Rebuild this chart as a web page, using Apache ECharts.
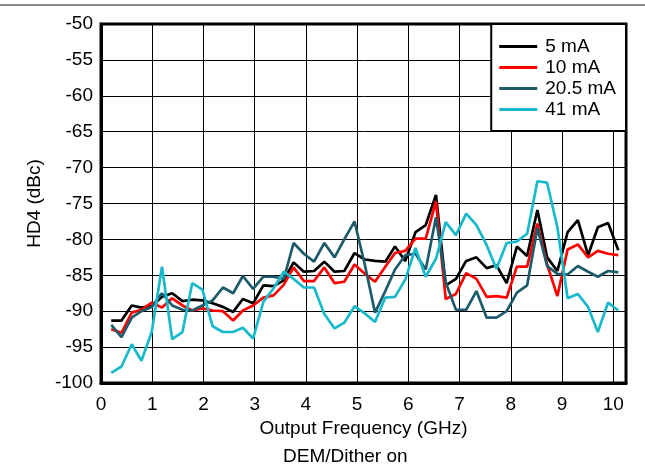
<!DOCTYPE html>
<html>
<head>
<meta charset="utf-8">
<script src="https://cdn.jsdelivr.net/npm/echarts@6/dist/echarts.min.js"></script>
<style>
  html, body { margin: 0; padding: 0; background: #fff; }
  #chart { width: 645px; height: 473px; }
</style>
</head>
<body>
<div id="chart"></div>
<script>
// output frequency (GHz)
var freq = [0.2, 0.4, 0.6, 0.79, 0.99, 1.19, 1.39, 1.59, 1.78, 1.98,
  2.18, 2.38, 2.58, 2.77, 2.97, 3.17, 3.37, 3.57, 3.76, 3.96,
  4.16, 4.36, 4.56, 4.75, 4.95, 5.15, 5.35, 5.55, 5.74, 5.94,
  6.14, 6.34, 6.54, 6.73, 6.93, 7.13, 7.33, 7.53, 7.72, 7.92,
  8.12, 8.32, 8.52, 8.71, 8.91, 9.11, 9.31, 9.51, 9.7, 9.9, 10.1];

var names = ['5 mA', '10 mA', '20.5 mA', '41 mA'];
var colors = ['#000000', '#ff0000', '#1d5b6b', '#17b9cb'];

var hd4_5mA = [-91.3, -91.3, -89.2, -89.5, -89.3, -88.0, -87.5, -88.6, -88.4, -88.5,
  -88.9, -89.4, -90.1, -88.3, -88.9, -86.4, -86.5, -85.7, -83.2, -84.5,
  -84.4, -83.1, -84.5, -84.4, -81.9, -82.8, -83.0, -83.1, -81.0, -83.0,
  -79.0, -78.0, -73.8, -86.4, -85.5, -83.0, -82.5, -84.0, -83.6, -86.1,
  -81.0, -82.3, -75.9, -82.5, -84.4, -79.0, -77.3, -82.2, -78.3, -77.7, -81.5];
var hd4_10mA = [-92.5, -93.0, -90.2, -89.8, -88.8, -89.5, -88.2, -89.2, -89.9, -89.6,
  -89.9, -90.0, -91.3, -89.9, -89.2, -88.1, -87.8, -86.3, -83.9, -85.8,
  -85.8, -83.9, -86.1, -85.9, -83.5, -84.8, -85.9, -83.8, -81.9, -81.6,
  -79.9, -79.9, -74.7, -88.3, -87.6, -84.7, -85.5, -88.0, -87.9, -88.1,
  -83.8, -83.8, -77.8, -83.5, -87.9, -81.4, -80.7, -82.5, -81.6, -82.0, -82.2];
var hd4_20mA = [-91.9, -93.6, -90.9, -90.0, -89.4, -87.5, -89.2, -89.8, -89.9, -89.2,
  -88.5, -86.7, -87.5, -85.1, -86.9, -85.2, -85.2, -85.5, -80.5, -82.0,
  -83.1, -80.5, -82.5, -80.0, -77.5, -83.5, -90.2, -87.2, -84.2, -82.2,
  -82.0, -84.2, -76.9, -86.0, -89.8, -89.8, -87.2, -90.9, -90.9, -90.0,
  -87.4, -86.4, -78.4, -83.7, -84.8, -84.9, -83.7, -84.5, -85.2, -84.4, -84.6];
var hd4_41mA = [-98.6, -97.7, -94.6, -96.9, -92.9, -83.8, -93.9, -92.9, -86.1, -87.0,
  -92.1, -92.9, -92.9, -92.3, -93.8, -88.7, -86.8, -84.5, -85.5, -86.7,
  -86.7, -90.4, -92.4, -91.6, -89.3, -90.3, -91.5, -88.1, -88.0, -85.6,
  -81.2, -85.2, -82.7, -77.6, -79.4, -76.4, -78.0, -80.8, -84.1, -80.5,
  -80.3, -79.2, -71.9, -72.1, -78.3, -88.2, -87.6, -89.4, -92.9, -88.8, -89.9];

var FONT = '"Liberation Sans", Arial, sans-serif';
var FS = 19;

function pairs(xs, ys) {
  var out = [];
  for (var i = 0; i < xs.length; i++) {
    out.push([xs[i], ys[i]]);
  }
  return out;
}

function drawChart() {
  var chart = echarts.init(document.getElementById('chart'), null, {renderer: 'canvas'});
  var all = [hd4_5mA, hd4_10mA, hd4_20mA, hd4_41mA];
  var series = [];
  for (var s = 0; s < all.length; s++) {
    series.push({
      name: names[s],
      type: 'line',
      data: pairs(freq, all[s]),
      showSymbol: false,
      symbol: 'none',
      lineStyle: {color: colors[s], width: 2.7},
      itemStyle: {color: colors[s]},
      animation: false
    });
  }

  var option = {
    animation: false,
    backgroundColor: '#fff',
    textStyle: {fontFamily: FONT},
    grid: {
      left: 101,
      top: 24,
      width: 525,
      height: 359,
      show: true,
      borderColor: '#000',
      borderWidth: 3,
      backgroundColor: 'transparent'
    },
    legend: {
      orient: 'vertical',
      right: 19,
      top: 24,
      data: names,
      backgroundColor: '#fff',
      borderColor: '#000',
      borderWidth: 2,
      borderRadius: 0,
      padding: [13, 10, 12, 8],
      itemWidth: 38,
      itemHeight: 3,
      itemGap: 2,
      icon: 'rect',
      itemStyle: {borderWidth: 0},
      textStyle: {fontFamily: FONT, fontSize: FS, color: '#000', padding: [0, 0, 0, 3], lineHeight: 19}
    },
    xAxis: {
      type: 'value',
      min: 0,
      max: 10.25,
      interval: 1,
      name: 'Output Frequency (GHz)',
      nameLocation: 'middle',
      nameGap: 32,
      nameTextStyle: {fontFamily: FONT, fontSize: FS, color: '#000'},
      axisLine: {show: true, onZero: false, lineStyle: {color: '#000', width: 3}},
      axisTick: {show: false},
      axisLabel: {
        fontFamily: FONT, fontSize: FS, color: '#000', margin: 12,
        showMaxLabel: false,
        formatter: function(v) { return (v % 1 === 0) ? String(v) : ''; }
      },
      splitLine: {show: true, lineStyle: {color: '#000', width: 1}}
    },
    yAxis: {
      type: 'value',
      min: -100,
      max: -50,
      interval: 5,
      name: 'HD4 (dBc)',
      nameLocation: 'middle',
      nameRotate: 90,
      nameGap: 57,
      nameTextStyle: {fontFamily: FONT, fontSize: FS, color: '#000'},
      axisLine: {show: true, lineStyle: {color: '#000', width: 3}},
      axisTick: {show: false},
      axisLabel: {fontFamily: FONT, fontSize: FS, color: '#000', margin: 8},
      splitLine: {show: true, lineStyle: {color: '#000', width: 1}}
    },
    graphic: [
      {
        type: 'line',
        shape: {x1: 0, y1: 5, x2: 645, y2: 5},
        style: {stroke: '#8a8a8a', lineWidth: 2}
      },
      {
        type: 'text',
        left: 283,
        top: 447,
        style: {text: 'DEM/Dither on', fontFamily: FONT, fontSize: FS, fill: '#000'}
      }
    ],
    series: series
  };

  chart.setOption(option);
}

window.onload = function() {
  drawChart();
}
</script>
</body>
</html>
